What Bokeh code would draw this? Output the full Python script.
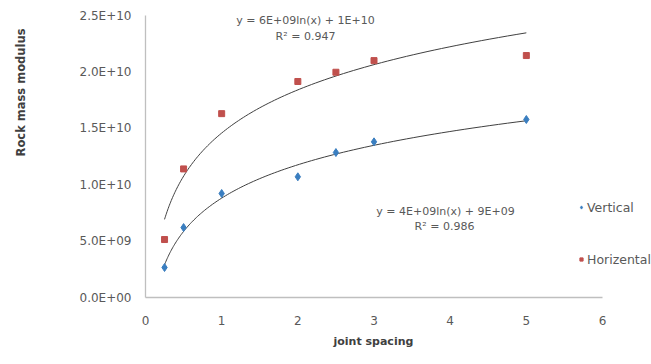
import numpy as np
from bokeh.plotting import figure
from bokeh.models import (Range1d, FixedTicker, CustomJSTickFormatter, Legend,
                          LegendItem, Label, Title, ColumnDataSource)
from bokeh.embed import file_html
from bokeh.resources import INLINE

# ---- data ----
joint_spacing = [0.25, 0.5, 1, 2, 2.5, 3, 5]
vertical = [2.66e9, 6.2e9, 9.22e9, 10.7e9, 12.85e9, 13.8e9, 15.78e9]
horizontal = [5.14e9, 11.4e9, 16.3e9, 19.15e9, 19.97e9, 21.0e9, 21.45e9]
series_names = ["Vertical", "Horizental"]
eq_vertical = ["y = 4E+09ln(x) + 9E+09", "R\u00b2 = 0.986"]
eq_horizontal = ["y = 6E+09ln(x) + 1E+10", "R\u00b2 = 0.947"]
x_ticks = [0, 1, 2, 3, 4, 5, 6]
y_ticks = [0, 5e9, 1e10, 1.5e10, 2e10, 2.5e10]

FONT = "DejaVu Sans"
TXT = "#595959"
BLUE = "#3A7EC0"
RED = "#C0504D"

W, H = 651, 364
LEFT, TOP, BOTTOM = 145, 15, 67
px_per_unit = 457 / 6.0
x_end = (W - LEFT) / px_per_unit

p = figure(width=W, height=H, output_backend="svg", toolbar_location=None,
           x_range=Range1d(0, x_end), y_range=Range1d(0, 2.5e10),
           min_border_left=LEFT, min_border_right=0, min_border_top=TOP,
           min_border_bottom=BOTTOM)
p.outline_line_color = None
p.grid.grid_line_color = None
p.background_fill_color = "white"
p.border_fill_color = "white"

for ax in (p.xaxis[0], p.yaxis[0]):
    ax.axis_line_color = "#BFBFBF"
    ax.axis_line_width = 1.3
    ax.major_tick_line_color = None
    ax.minor_tick_line_color = None
    ax.major_tick_out = 0
    ax.major_tick_in = 0
    ax.major_label_text_font = FONT
    ax.major_label_text_font_size = "12px"
    ax.major_label_text_color = TXT

p.xaxis.bounds = (0, 6)
p.xaxis.ticker = FixedTicker(ticks=x_ticks)
p.yaxis.ticker = FixedTicker(ticks=y_ticks)
p.yaxis.formatter = CustomJSTickFormatter(code="""
const s = tick.toExponential(1).toUpperCase();
return s.replace(/E([+-])(\\d)$/, (m, a, b) => 'E' + a + '0' + b);
""")
p.yaxis.major_label_standoff = 14
p.xaxis.major_label_standoff = 18

# a blank, tiny y axis label only reserves room between tick labels and title
p.yaxis.axis_label = " "
p.yaxis.axis_label_text_font_size = "1px"
p.yaxis.axis_label_standoff = 44

# y axis title in the outer left border, in the upper half like the reference
p.add_layout(Title(text="Rock mass modulus", align="right", offset=13,
                   vertical_align="middle", standoff=0,
                   text_font=FONT, text_font_style="bold",
                   text_font_size="11.5px", text_color="#404040"), "left")

# x axis title (centred under the 0..6 axis, not the whole plot area)
p.add_layout(Title(text="joint spacing", align="left", offset=188,
                   vertical_align="top", standoff=14,
                   text_font=FONT, text_font_style="bold",
                   text_font_size="11px", text_color="#404040"), "below")

# ---- logarithmic trend lines (least squares on ln x) ----
xs = np.array(joint_spacing)
xx = np.geomspace(xs.min(), xs.max(), 120)
for ys in (horizontal, vertical):
    a, b = np.polyfit(np.log(xs), np.array(ys), 1)
    p.line(xx, a * np.log(xx) + b, line_color="#404040", line_width=1)

src = ColumnDataSource(dict(x=joint_spacing, v=vertical, h=horizontal))
r_v = p.scatter("x", "v", source=src, marker="diamond", size=8,
                fill_color=BLUE, line_color=BLUE)
r_h = p.scatter("x", "h", source=src, marker="square", size=6,
                fill_color=RED, line_color=RED)

legend = Legend(items=[LegendItem(label=series_names[0], renderers=[r_v]),
                       LegendItem(label=series_names[1], renderers=[r_h])],
                location=(432, 28), orientation="vertical",
                glyph_width=8, glyph_height=20, label_height=20,
                label_standoff=2, spacing=32, padding=0, margin=0,
                border_line_color=None, background_fill_alpha=0,
                label_text_font=FONT, label_text_font_size="12.5px",
                label_text_color=TXT)
p.add_layout(legend)

# equation labels (screen offsets from the plot area's lower-left corner)
for txt, sx, sy in ((eq_horizontal[0], 160, 277), (eq_horizontal[1], 160, 261),
                    (eq_vertical[0], 300, 86), (eq_vertical[1], 299, 71)):
    p.add_layout(Label(x=sx, y=sy, x_units="screen", y_units="screen", text=txt,
                       text_align="center", text_baseline="middle",
                       text_font=FONT, text_font_size="11px", text_color=TXT))

open("out.html", "w").write(file_html(p, INLINE))
